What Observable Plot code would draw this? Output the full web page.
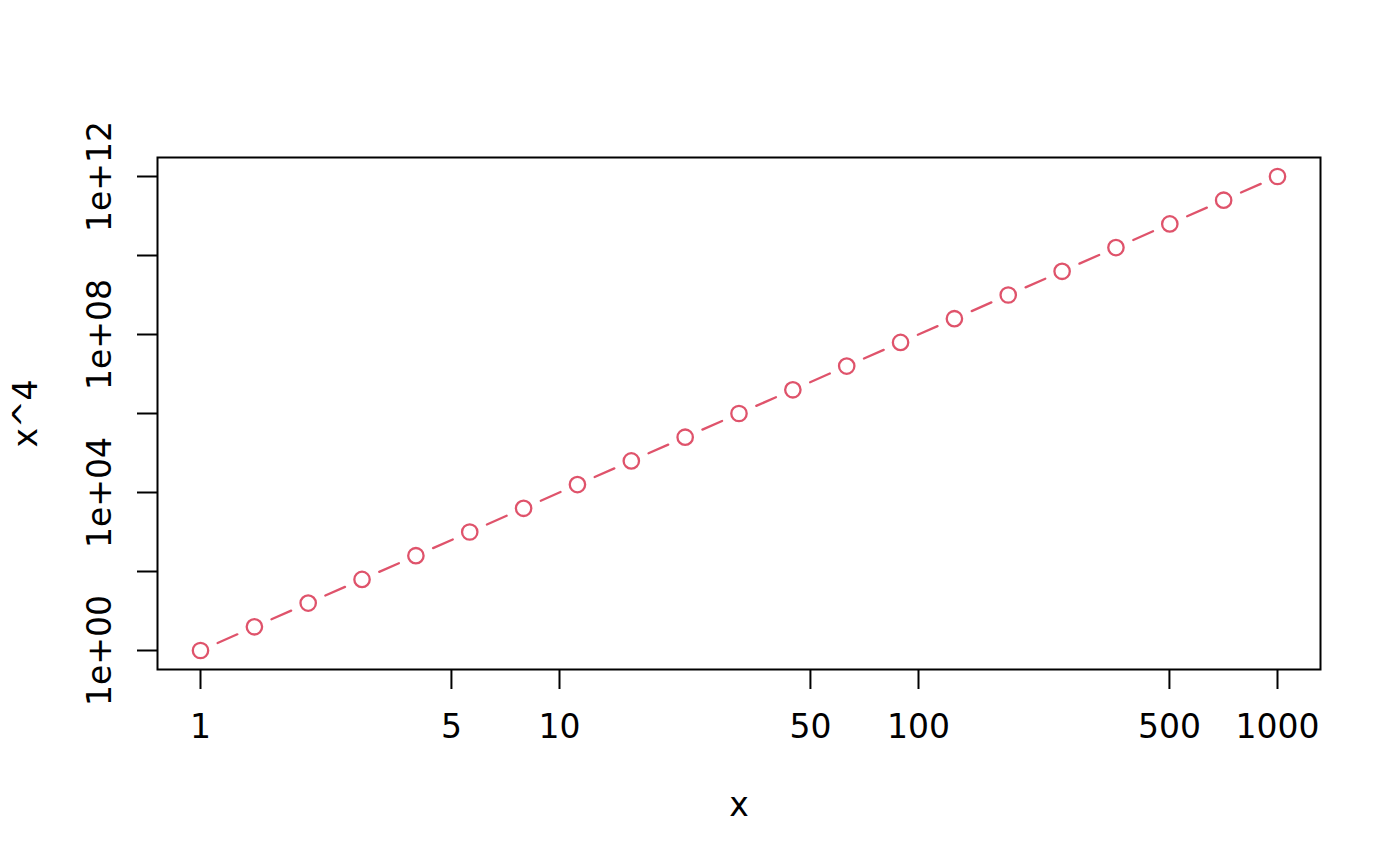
<!DOCTYPE html>
<html>
<head>
<meta charset="utf-8">
<script src="https://cdn.jsdelivr.net/npm/d3@7"></script>
<script src="https://cdn.jsdelivr.net/npm/@observablehq/plot@0.6"></script>
<style>
  body { margin: 0; background: white; }
</style>
</head>
<body>
<div id="chart"></div>
<script>
// values
const xs = [1, 1.413, 1.995, 2.818, 3.981, 5.623, 7.943, 11.22, 15.85, 22.39, 31.62,
  44.67, 63.1, 89.13, 125.9, 177.8, 251.2, 354.8, 501.2, 707.9, 1000]
const ys = [1, 3.981, 15.85, 63.1, 251.2, 1000, 3981, 15850, 63100, 251200, 1e6,
  3.981e6, 1.585e7, 6.31e7, 2.512e8, 1e9, 3.981e9, 1.585e10, 6.31e10, 2.512e11, 1e12]

const xTicks = [1, 5, 10, 50, 100, 500, 1000]
const xTickText = ["1", "5", "10", "50", "100", "500", "1000"]
const yTicks = [1, 1e2, 1e4, 1e6, 1e8, 1e10, 1e12]
const yLabelValues = [1, 1e4, 1e8, 1e12]
const yLabelText = ["1e+00", "1e+04", "1e+08", "1e+12"]

const points = xs.map((x, i) => ({x: x, y: ys[i]}))
const xLabels = xTicks.map((v, i) => ({x: v, text: xTickText[i]}))
const yLabels = yLabelValues.map((v, i) => ({y: v, text: yLabelText[i]}))

const col = "#DF536B"

let chart = Plot.plot({
  width: 1400,
  height: 866,
  marginTop: 157,
  marginRight: 80,
  marginBottom: 197,
  marginLeft: 157,
  x: {type: "log", domain: [1, 1000], insetLeft: 43, insetRight: 43, label: null},
  y: {type: "log", domain: [1, 1e12], insetTop: 19, insetBottom: 19, label: null},
  style: {
    background: "white",
    fontFamily: "DejaVu Sans",
    fontSize: "33px",
    color: "black"
  },
  marks: [
    Plot.frame({stroke: "black", strokeWidth: 2}),
    Plot.axisX({
      ticks: xTicks,
      tickSize: 20,
      tickFormat: () => "",
      strokeWidth: 2,
      label: null
    }),
    Plot.axisY({
      ticks: yTicks,
      tickSize: 20,
      tickFormat: () => "",
      strokeWidth: 2,
      label: null
    }),
    // tick labels
    Plot.text(xLabels, {
      x: "x",
      text: "text",
      frameAnchor: "bottom",
      dy: 58,
      textAnchor: "middle",
      lineAnchor: "middle",
      fontSize: 33,
      fill: "black"
    }),
    Plot.text(yLabels, {
      y: "y",
      text: "text",
      frameAnchor: "left",
      dx: -57,
      rotate: -90,
      textAnchor: "middle",
      lineAnchor: "middle",
      fontSize: 33,
      fill: "black"
    }),
    // axis titles
    Plot.text(["x"], {frameAnchor: "bottom", dy: 136, textAnchor: "middle", lineAnchor: "middle", fontSize: 33, fill: "black"}),
    Plot.text(["x^4"], {frameAnchor: "left", dx: -131, rotate: -90, textAnchor: "middle", lineAnchor: "middle", fontSize: 33, fill: "black"}),
    Plot.line(points, {
      x: "x",
      y: "y",
      stroke: col,
      strokeWidth: 2.3,
      strokeDasharray: "0 18.7 21.5 18.65"
    }),
    Plot.dot(points, {x: "x", y: "y", r: 7.7, stroke: col, strokeWidth: 2.3, fill: "white"})
  ]
})

d3.select("#chart").append(() => chart)
</script>
</body>
</html>
